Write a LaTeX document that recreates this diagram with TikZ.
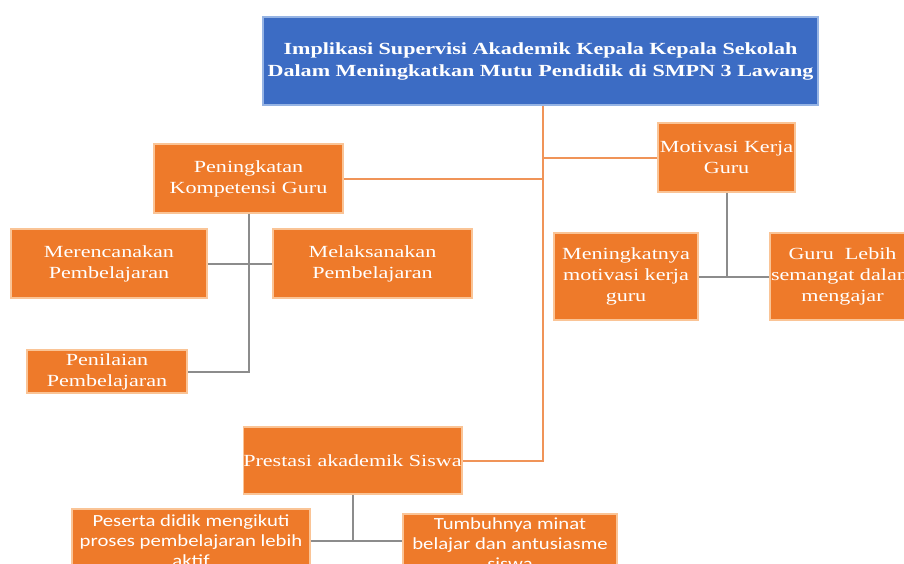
\documentclass[tikz,border=0pt]{standalone}
\usepackage{fontspec}
\setmainfont[FakeStretch=1.3]{Liberation Serif}
\newfontfamily\sansbox[FakeStretch=1.22]{Carlito}
\definecolor{boxfill}{RGB}{238,122,42}
\definecolor{boxedge}{RGB}{250,196,150}
\definecolor{titlefill}{RGB}{60,108,196}
\definecolor{titleedge}{RGB}{150,180,228}
\definecolor{trunkcol}{RGB}{240,148,88}
\definecolor{branchcol}{RGB}{140,140,140}
\begin{document}
\begin{tikzpicture}
[x=1pt,y=-1pt,
  nodeorange/.style={shape=rectangle,inner sep=0pt,align=center,text=white,
    fill=boxfill,draw=boxedge,line width=1.5pt,
    font=\fontsize{17}{21}\selectfont},
  nodesans/.style={nodeorange,font=\sansbox\fontsize{17}{20}\selectfont},
  nodetitle/.style={shape=rectangle,inner sep=0pt,align=center,text=white,
    fill=titlefill,draw=titleedge,line width=2pt,
    font=\bfseries\fontsize{17}{22}\selectfont},
  linetrunk/.style={-,draw=trunkcol,line width=2pt},
  linebranch/.style={-,draw=branchcol,line width=2pt}]
\useasboundingbox[fill=white] (0,0) rectangle (904,563);
%% title
\node (title) at (540.5,61) [nodetitle,minimum width=555pt,minimum height=88pt]
  {Implikasi Supervisi Akademik Kepala Kepala Sekolah\\
   Dalam Meningkatkan Mutu Pendidik di SMPN 3 Lawang};
%% boxes
\foreach \nodename/\x/\y/\w/\h/\txt in {
  kompetensi/248.5/178.5/189/69/{Peningkatan\\Kompetensi Guru},
  rencana/109/263.5/196/69/{Merencanakan\\Pembelajaran},
  laksana/372.5/263.5/199/69/{Melaksanakan\\Pembelajaran},
  nilai/107/371.5/160/43/{Penilaian\\Pembelajaran},
  motivasi/726.5/157.5/137/69/{Motivasi Kerja\\Guru},
  tingkat/626/276.5/144/87/{Meningkatnya\\motivasi kerja\\guru},
  semangat/842.5/276.5/145/87/{Guru\ \ Lebih\\semangat dalam\\mengajar},
  prestasi/352.5/460.5/217/67/{Prestasi akademik Siswa}} {
  \node (\nodename) at (\x,\y) [nodeorange,minimum width=\w pt,minimum height=\h pt] {\txt};
}
\node (peserta) at (191,541) [nodesans,minimum width=238pt,minimum height=64pt]
  {Peserta didik mengikuti\\proses pembelajaran lebih\\aktif};
\node (tumbuh) at (510,543.5) [nodesans,minimum width=214pt,minimum height=59pt]
  {Tumbuhnya minat\\belajar dan antusiasme\\siswa};
%% trunk
\coordinate (tk) at (543,460.5);
\draw[linetrunk] (title.south -| tk) -- (tk) -- (prestasi.east);
\draw[linetrunk] (kompetensi.east) -- (kompetensi.east -| tk);
\draw[linetrunk] (motivasi.west) -- (motivasi.west -| tk);
%% branches
\draw[linebranch] (kompetensi.south) -- (kompetensi.south |- nilai.east) -- (nilai.east);
\draw[linebranch] (rencana.east) -- (laksana.west);
\draw[linebranch] (motivasi.south) -- (motivasi.south |- tingkat.east);
\draw[linebranch] (tingkat.east) -- (semangat.west);
\draw[linebranch] (prestasi.south) -- (prestasi.south |- peserta.east);
\draw[linebranch] (peserta.east) -- (peserta.east -| tumbuh.west);
\end{tikzpicture}
\end{document}
